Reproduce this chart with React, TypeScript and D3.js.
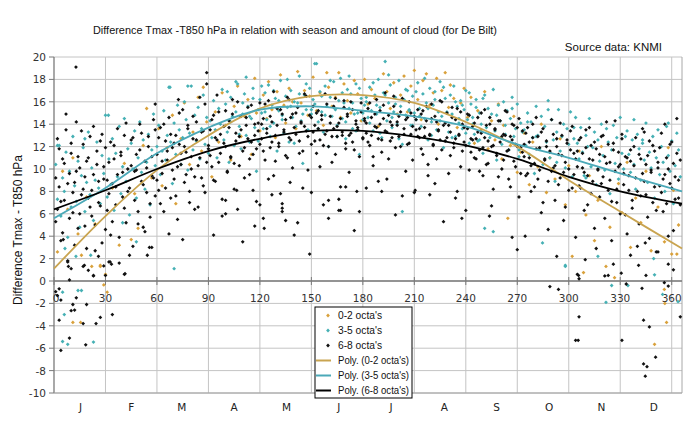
import React, { useEffect, useRef } from 'react';
import * as d3 from 'd3';

const width = 700;
const height = 430;
// plot area in px
const plot = { left: 54, right: 682, top: 57, bottom: 393 };

const title = 'Difference Tmax -T850 hPa in relation with season and amount of cloud (for De Bilt)';
const source = 'Source data: KNMI';
const yTitle = 'Difference Tmax - T850 hPa';

const months = ['J', 'F', 'M', 'A', 'M', 'J', 'J', 'A', 'S', 'O', 'N', 'D'];
const monthLengths = [31, 28, 31, 30, 31, 30, 31, 31, 30, 31, 30, 31];
const xTicks = [0, 30, 60, 90, 120, 150, 180, 210, 240, 270, 300, 330, 360];
const yTicks = [-10, -8, -6, -4, -2, 0, 2, 4, 6, 8, 10, 12, 14, 16, 18, 20];

// 6-8 octa's, one value per day (index 0 = day 1)
const blackA = [
  9.2, 6.4, 11.8, 7.1, 4.3, 10.5, 14.9, 8.7, 5.6, 12.3, 7.9, 3.2, 9.8, 11.1, 6.0, 13.4, 8.2, 4.9, 10.7, 7.4, 12.9, 5.8, 9.5, 2.7, 11.6, 8.9, 6.7, 13.1, 10.2, 4.6, 9.0,
  7.8, 12.4, 5.3, 10.9, 8.4, 13.6, 3.9, 11.2, 9.7, 6.5, 14.1, 8.0, 2.3, 10.3, 12.8, 7.2, 9.9, 5.1, 11.7, 13.2, 8.6, 4.4, 10.1, 12.0, 6.9, 9.4, 14.4, 7.6,
  11.3, 8.1, 13.7, 9.6, 6.2, 12.5, 10.8, 14.6, 7.4, 11.9, 9.1, 13.0, 5.5, 12.2, 10.4, 15.3, 8.8, 11.5, 13.9, 7.0, 10.0, 12.7, 9.3, 14.2, 6.6, 11.0, 13.3, 8.5, 15.8, 10.6, 12.1,
  13.5, 10.2, 14.8, 8.9, 12.6, 15.1, 11.4, 7.3, 13.8, 12.0, 9.7, 14.3, 11.1, 16.2, 10.5, 13.2, 6.4, 12.9, 14.7, 11.6, 9.2, 13.9, 15.5, 10.9, 12.4, 8.1, 14.0, 11.8, 13.4, 15.9,
  12.7, 14.5, 10.8, 13.6, 16.1, 11.9, 14.2, 9.4, 13.0, 15.4, 12.3, 7.8, 14.9, 13.3, 11.2, 16.4, 12.8, 14.6, 10.1, 13.7, 15.0, 5.2, 12.5, 14.1, 11.6, 16.7, 13.4, 9.9, 14.8, 12.2, 15.6,
  13.9, 11.4, 15.2, 12.6, 14.4, 6.8, 13.1, 15.8, 12.0, 14.7, 10.6, 13.6, 16.3, 12.9, 14.1, 8.4, 13.3, 15.5, 11.8, 14.9, 13.0, 16.0, 12.4, 4.5, 14.3, 13.7, 11.1, 15.1, 12.8, 14.5,
  13.2, 15.4, 12.1, 14.6, 10.3, 13.8, 16.2, 12.7, 14.0, 11.5, 15.7, 13.4, 9.1, 14.8, 12.5, 13.9, 16.5, 11.9, 14.2, 12.9, 15.1, 7.6, 13.6, 14.4, 12.2, 16.0, 13.1, 10.8, 14.7, 13.5, 15.3,
  12.8, 14.9, 11.3, 13.7, 15.6, 10.4, 13.0, 14.5, 12.1, 8.7, 14.2, 13.4, 16.1, 11.7, 13.9, 12.5, 15.0, 9.6, 13.3, 14.6, 11.9, 12.7, 15.4, 13.1, 10.2, 14.0, 12.4, 6.3, 13.6, 14.8, 11.5,
  12.6, 14.1, 10.9, 13.3, 11.7, 15.0, 9.4, 12.8, 13.9, 10.5, 14.6, 12.0, 8.2, 13.5, 11.2, 14.3, 12.4, 10.0, 13.1, 15.2, 11.6, 9.1, 12.9, 14.0, 10.7, 12.2, 13.7, 7.5, 11.9, 13.4,
  11.1, 13.2, 9.6, 12.4, 10.3, 14.0, 8.4, 11.8, 12.9, 9.9, 6.1, 13.6, 10.8, 12.0, 8.9, 11.5, 14.4, 10.1, 7.2, 12.7, 11.3, 9.2, 13.0, 5.4, 10.6, 12.3, 8.1, 11.7, 13.8, 9.5, 10.9,
  10.2, 12.6, 8.3, 11.4, 9.7, 13.5, 6.8, 10.9, 12.1, 8.9, 4.7, 11.8, 10.0, 7.5, 12.9, 9.3, 11.1, 14.2, 8.1, 10.6, 3.6, 12.3, 9.8, 7.0, 11.5, 10.4, 13.1, 8.6, 5.9, 11.0,
  9.4, 11.7, 7.2, 10.3, 12.8, 8.0, 5.1, 10.9, 9.6, 13.3, 7.7, 11.2, 3.8, 9.9, 12.1, 8.4, 6.3, 10.6, 11.9, 7.9, 9.1, 14.0, 6.9, 10.0, 8.7, 12.4, 4.5, 9.3, 11.4, 7.4, 10.8,
];

const blackB = [
  5.3, 12.7, 8.4, 3.6, 10.9, 7.2, 13.5, 1.8, 9.6, 11.4, 6.1, 8.8, 14.2, 4.7, 10.1, 7.7, 12.2, 9.3, 2.9, 11.0, 6.6, 8.1, 13.8, 5.0, 10.4, 7.0, 12.5, 3.4, 9.1, 11.9, 6.3,
  10.6, 4.1, 8.7, 12.1, 6.8, 9.5, 1.6, 11.5, 7.5, 13.0, 5.2, 10.0, 8.3, 12.6, 3.1, 9.8, 11.3, 6.2, 14.0, 8.9, 4.8, 10.7, 7.9, 12.9, 5.7, 11.1, 9.2, 13.5,
  9.0, 12.8, 6.9, 10.7, 14.0, 8.3, 11.6, 4.2, 13.1, 9.9, 12.3, 7.6, 10.2, 15.0, 11.4, 3.7, 12.0, 9.5, 13.6, 8.0, 11.1, 14.7, 6.4, 12.6, 10.3, 16.4, 9.2, 13.4, 7.9, 17.6, 11.8,
  11.2, 14.4, 9.0, 12.8, 16.6, 10.6, 13.1, 5.8, 12.3, 15.2, 9.8, 13.7, 11.0, 14.9, 8.2, 12.5, 16.0, 10.3, 13.5, 3.5, 11.9, 14.6, 12.7, 9.5, 15.7, 11.3, 13.0, 7.1, 14.1, 12.2,
  14.0, 11.6, 15.8, 13.2, 9.1, 14.7, 12.4, 16.9, 10.7, 13.9, 12.0, 15.3, 6.5, 13.5, 14.4, 11.0, 16.2, 12.6, 14.9, 4.1, 13.1, 15.5, 11.4, 14.2, 8.3, 13.8, 16.5, 12.9, 2.4, 14.6, 13.3,
  12.5, 15.0, 13.6, 10.2, 14.8, 12.1, 16.7, 13.4, 5.6, 14.1, 12.9, 15.6, 11.3, 13.8, 7.3, 14.5, 13.0, 16.1, 12.3, 14.7, 9.7, 13.2, 15.3, 11.7, 14.0, 13.5, 6.2, 15.9, 12.7, 14.3,
  14.1, 12.4, 15.9, 13.0, 11.1, 14.9, 13.7, 8.9, 15.2, 12.6, 14.5, 16.8, 13.3, 10.9, 14.2, 12.8, 15.6, 5.9, 13.9, 14.7, 12.0, 16.3, 13.1, 9.8, 14.6, 12.3, 15.0, 13.8, 7.9, 14.4, 12.9,
  13.6, 11.8, 15.2, 12.9, 14.3, 9.4, 13.1, 15.8, 12.2, 14.7, 10.9, 13.5, 12.6, 16.0, 5.3, 14.1, 12.8, 13.9, 11.2, 15.5, 12.3, 14.4, 8.0, 13.0, 15.1, 11.6, 13.7, 12.1, 14.9, 9.9, 12.7,
  13.8, 11.0, 12.7, 14.6, 9.8, 13.2, 11.9, 15.3, 10.4, 12.5, 14.0, 6.7, 12.1, 13.6, 11.4, 9.3, 14.3, 12.9, 10.8, 13.0, 15.1, 11.7, 8.4, 12.6, 13.9, 10.2, 12.0, 14.5, 9.6, 11.5,
  12.2, 9.4, 13.7, 11.0, 8.0, 12.8, 10.5, 14.6, 9.1, 11.9, 13.3, 7.0, 10.9, 12.5, 4.6, 11.6, 9.8, 13.1, 10.3, 12.0, 8.6, 14.1, 11.2, 9.7, 6.6, 12.6, 10.0, 13.4, 8.3, 11.4, 3.9,
  11.6, 8.5, 12.8, 10.1, 6.3, 11.9, 9.4, 13.7, 7.8, 10.8, 12.4, 2.9, 9.9, 11.3, 8.7, 13.0, 5.6, 10.5, 12.2, 9.0, 7.1, 11.7, 14.3, 8.2, 10.2, 6.0, 12.7, 9.6, 11.1, 4.2,
  8.1, 10.7, 6.5, 12.0, 9.2, 3.1, 11.3, 7.6, 13.6, 8.9, 10.4, 5.7, 12.5, 9.7, 7.0, 11.6, 2.6, 10.1, 8.5, 13.2, 6.2, 9.5, 11.0, 4.0, 12.2, 8.3, 10.5, 7.3, 14.5, 9.0, 6.8,
];

// 6-8 octa's, loose points: [day, value]
const blackExtra = [
  [1, -0.95], [2, -1.3], [3, -0.7], [3, -3.5], [4, -6.2], [4, -1.7], [8, 1.7], [9, 0.1], [9, -5.1], [10, 1.1], [10, -2.65],
  [11, -2.1], [12, -2.6], [13, -1.5], [12.8, 19.1], [17, -3.8], [17, 1.3], [18.5, -5.7], [19, -2.1], [20, 0.95], [23, 0.45],
  [24.5, -3.8], [27, -3.25], [29, 1.35], [30, 0.5], [32, 1.7], [33.5, 1.5], [34, -3.0], [41, 0.6], [5.4, 3.7], [8.4, 1.3],
  [17.7, 1.4], [23, 0.5], [25.9, 2.2], [32.7, 1.7], [41.4, 0.65], [54.4, 2.3], [55.6, 3.0], [57, 3.0], [59, 15.8], [72.5, 16.2],
  [89, 18.6], [93, 4.1], [100, 7.2], [100, 6.0], [106.5, 8.1], [117, 4.9], [120, 6.8], [122, 5.6], [122.5, 4.7], [127, 7.7],
  [133, 6.9], [133, 6.2], [135, 5.4], [137.6, 8.8], [150, 7.9], [160, 7.2], [166, 6.3], [167, 6.3], [170, 8.4], [176.5, 8.0],
  [182, 8.3], [191, 8.0], [210.5, 8.1], [219, 7.7], [234, 7.4], [237.7, 5.6], [253.8, 5.8], [267, 3.9], [270, 2.8], [274.6, 4.0],
  [289, -0.5], [293, 2.2], [294, -0.75], [305, 0.6], [306, 0.2], [306, -3.2], [304, -5.3], [305.5, -5.3], [305.7, 0.5],
  [309.6, 1.9], [321, 0.45], [323, 0.5], [326, 1.5], [330.6, 0.7], [331, -5.3], [333.5, -0.27], [336, 2.3], [340.7, 1.4],
  [342.7, -0.65], [343.6, -3.5], [343.6, -7.4], [344.6, -8.5], [344.6, 3.4], [345, 0.5], [345.6, -7.65], [347, -4.1],
  [350.6, -6.8], [352, 2.6], [355.7, -0.15], [358, -0.45], [358, 1.5], [361, 1.0], [365, -3.2],
];

// 3-5 octa's, one value per day (index 0 = day 1)
const tealA = [
  10.4, 7.3, 12.1, 5.8, 9.2, 8.0, 11.5, 3.9, 9.8, 6.6, 12.9, 8.5, 7.1, 10.7, 4.8, 9.4, 11.9, 6.2, 8.8, 13.3, 7.7, 10.1, 5.4, 9.0, 12.4, 8.3, 6.9, 11.2, 9.6, 14.8, 7.5,
  10.9, 8.6, 12.7, 6.3, 11.4, 9.3, 13.8, 7.8, 10.2, 14.5, 8.9, 11.8, 5.9, 12.3, 10.0, 13.4, 7.4, 11.0, 14.2, 9.7, 12.6, 8.2, 10.6, 13.1, 6.8, 11.7, 14.9, 10.3,
  12.0, 13.9, 9.5, 11.6, 15.2, 10.8, 13.0, 17.3, 12.4, 8.7, 14.1, 11.3, 15.7, 13.5, 10.4, 12.8, 16.0, 14.4, 9.9, 13.2, 17.4, 11.7, 14.8, 12.5, 15.5, 10.9, 13.6, 16.6, 12.2, 14.6, 11.4,
  14.3, 12.8, 16.1, 13.5, 11.0, 15.4, 14.0, 17.1, 12.6, 15.8, 13.3, 10.6, 16.4, 14.7, 12.1, 15.1, 17.6, 13.8, 11.8, 14.9, 16.7, 13.0, 15.6, 12.4, 14.5, 17.2, 13.7, 9.8, 15.3, 16.2,
  15.0, 13.6, 16.8, 14.4, 17.5, 12.9, 15.7, 14.1, 16.3, 11.6, 15.2, 17.9, 14.8, 13.2, 16.5, 15.5, 12.4, 17.0, 14.6, 16.0, 13.8, 15.9, 18.3, 14.3, 10.5, 16.6, 15.3, 13.5, 17.2, 14.9, 16.2,
  15.8, 19.4, 14.2, 16.9, 15.1, 13.3, 17.4, 15.6, 12.0, 16.4, 14.7, 17.8, 15.3, 13.9, 16.1, 18.1, 14.5, 15.9, 12.7, 17.1, 15.4, 16.7, 13.6, 14.9, 17.6, 15.0, 11.3, 16.3, 14.4, 15.7,
  16.0, 14.6, 17.3, 15.2, 13.4, 16.6, 14.9, 18.0, 15.5, 12.8, 16.8, 19.6, 14.3, 15.9, 17.5, 13.7, 15.1, 16.4, 14.0, 17.9, 15.6, 12.2, 16.2, 14.8, 17.0, 15.3, 13.9, 16.5, 15.0, 14.4, 17.7,
  15.4, 13.8, 16.7, 14.5, 15.9, 12.6, 17.2, 14.2, 15.7, 16.9, 13.5, 15.1, 17.8, 14.7, 11.9, 16.3, 15.0, 13.3, 16.6, 14.9, 17.4, 12.9, 15.6, 14.1, 16.1, 13.6, 15.3, 17.0, 14.4, 12.3, 15.8,
  14.6, 13.1, 16.2, 12.5, 15.0, 14.0, 11.4, 16.6, 13.7, 15.4, 12.8, 14.9, 17.1, 13.4, 10.8, 15.7, 14.3, 12.2, 16.0, 13.9, 15.2, 11.7, 14.5, 16.4, 12.9, 13.6, 15.8, 11.1, 14.1, 13.3,
  13.5, 12.1, 15.0, 11.3, 14.2, 12.8, 9.6, 15.6, 13.0, 11.8, 14.7, 10.4, 13.8, 12.4, 16.1, 11.0, 14.4, 12.6, 8.9, 13.3, 15.3, 11.6, 12.9, 14.0, 10.1, 13.6, 12.2, 15.1, 9.3, 12.7, 14.6,
  12.3, 10.9, 13.7, 11.5, 9.4, 13.0, 12.0, 14.5, 10.2, 11.9, 13.3, 8.6, 12.6, 10.7, 14.0, 11.2, 9.9, 13.6, 12.4, 7.8, 11.7, 13.9, 10.5, 12.8, 9.1, 14.6, 11.4, 10.0, 12.9, 13.4,
  11.3, 9.7, 12.6, 10.4, 8.2, 13.1, 11.8, 9.0, 12.3, 10.8, 14.1, 8.8, 11.5, 10.1, 12.9, 7.4, 11.0, 13.5, 9.5, 12.0, 10.6, 8.0, 13.8, 11.2, 9.8, 12.5, 6.9, 10.3, 13.2, 11.7, 9.3,
];

const tealExtra = [
  [2, 12.1], [5, -1.0], [6, -3.0], [5, -5.4], [8, -5.65], [14, -0.85], [16, -0.85], [23, -5.45], [6.4, 2.9], [12.8, 2.2],
  [21.4, 2.3], [18, 12.7], [31.7, 14.8], [40, 5.2], [48, 3.5], [70, 1.1], [67.6, 17.3], [78, 17.4],
  [101, 16.9], [103, 14.2], [106, 17.8], [108, 13.1], [110, 15.9], [112, 18.2], [114, 14.7], [116, 16.3], [119, 12.5],
  [121, 17.4], [123, 15.1], [126, 13.8], [128, 17.0], [131, 16.1], [133, 14.4], [136, 18.0], [138, 15.6], [140, 12.3],
  [143, 16.7], [145, 14.9], [147, 17.6], [150, 15.3], [152, 19.4], [154, 13.6], [156, 16.5], [158, 14.8], [161, 17.9],
  [163, 15.5], [165, 12.9], [168, 16.8], [170, 14.2], [172, 18.3], [174, 15.9], [176, 13.4], [178, 17.2], [180, 15.0],
  [182, 16.4], [184, 14.1], [186, 17.7], [188, 15.7], [190, 13.2], [193, 16.6], [195, 18.4], [197, 14.6], [199, 15.8],
  [201, 12.7], [203, 6.2], [205, 17.1], [207, 15.2], [209, 13.9], [211, 16.9], [213, 14.7], [216, 18.1], [218, 15.4],
  [220, 13.0], [222, 16.2], [225, 14.3], [227, 17.3], [229, 15.1], [232, 12.8], [234, 16.0], [236, 14.5], [238, 15.7],
  [240, 13.2], [242, 16.8], [244, 14.0], [246, 15.5], [248, 12.6], [250, 16.3], [251, 4.7], [256, 4.4], [258, 14.8],
  [263, 13.1], [267, 15.4], [271, 11.7], [276, 14.2], [281, 12.9], [284.7, 3.4], [288, 15.3], [293, 10.6], [298, 1.4],
  [298, 1.3], [303, 13.7], [310, 9.2], [317, 2.2], [321.7, -1.9], [325, -0.4], [334.5, -0.4], [338, 14.4], [343, 12.6],
  [349.5, 2.0], [350, 0.55], [354.7, -1.2], [358, 14.1], [363.7, -1.85],
];

// 0-2 octa's: [day, value]
const goldPts = [
  [2, 2.6], [5, 9.8], [8, 6.4], [11, -3.7], [11, 11.0], [14, 4.2], [15.5, -3.7], [16, 2.3], [19, 7.5], [22, 1.3], [24, 5.1],
  [27, 1.3], [27, 1.4], [29, -0.35], [30, 0.6], [31, -1.0], [34, 8.3], [38, 3.2], [41, 10.5], [45, 3.7], [47, 7.8], [49, 4.7],
  [52, 12.1], [54, 15.4], [57, 9.2],
  [61, 13.6], [63, 8.5], [66, 11.9], [69, 14.8], [71, 6.9], [74, 12.7], [76, 15.9], [79, 10.4], [81, 13.3], [84, 16.4],
  [86, 11.6], [87, 17.3], [89, 14.2], [92, 9.3], [94, 15.1], [96, 12.4], [98, 16.8], [100, 13.9], [103, 10.8], [105, 15.6],
  [107, 17.4], [109, 12.9], [111, 14.7], [113, 16.2], [115, 11.3], [117, 18.1], [118, 15.0], [120, 13.4],
  [122, 16.6], [124, 14.5], [125, 17.8], [127, 15.3], [129, 12.8], [130, 16.9], [132, 18.4], [134, 15.7], [135, 14.1],
  [137, 17.2], [139, 16.0], [141, 13.6], [142, 18.7], [144, 15.9], [146, 17.0], [148, 14.8], [149, 16.5], [151, 18.2],
  [153, 15.2], [155, 16.8], [157, 13.9], [159, 18.6], [160, 17.3], [162, 15.6], [164, 16.4], [166, 18.6], [167, 14.6],
  [169, 17.6], [171, 16.1], [173, 15.0], [175, 17.9], [177, 16.7], [179, 14.3], [181, 18.0], [183, 15.8], [185, 17.1],
  [187, 16.3], [189, 13.8], [192, 18.5], [194, 16.9], [196, 15.4], [198, 17.7], [200, 14.9], [202, 16.6], [204, 18.3],
  [206, 15.1], [208, 17.4], [210, 18.8], [212, 16.2], [214, 14.4], [215, 17.9], [217, 18.5], [219, 15.7], [221, 16.8],
  [223, 18.1], [224, 14.0], [226, 17.0], [228, 18.6], [230, 15.5], [231, 17.5], [233, 16.3], [235, 13.7], [237, 15.9],
  [239, 17.2], [241, 14.6],
  [243, 16.4], [245, 12.3], [247, 15.2], [249, 13.5], [251, 16.9], [253, 11.8], [255, 14.3], [257, 12.6], [259, 15.8],
  [261, 10.9], [262, 13.9], [264.5, 5.6], [266, 12.1], [268, 14.7], [270, 9.7], [272, 11.5], [274, 13.2], [277, 8.6],
  [279, 12.4], [282, 10.2], [284, 14.0], [287, 7.9], [289, 11.0], [292, 9.1], [295, 12.7], [298, 6.8],
  [300, 10.3], [302, 2.2], [304, 8.0], [306, 11.6], [308.6, 0.75], [310, 5.9], [312, 9.4], [315, 3.6], [317, 7.2],
  [319, 12.0], [321.7, 1.3], [324, 4.8], [326.7, 0.3], [329, 8.7], [331, 6.1], [334, 10.6], [336, 3.0], [339, 7.4],
  [342, 5.2], [345, 9.8], [348, 2.7], [350, -5.65], [352, 6.6], [355.7, -0.75], [355.8, 3.5], [356, -2.0], [357, -3.7],
  [358, 11.9], [360, 2.4], [361, 8.1], [363, 2.4], [364, 5.0],
];

// polynomial trend lines
const trendDays = [0, 30, 60, 90, 120, 150, 180, 210, 240, 270, 300, 330, 366];
const trendGold = [1.1, 5.8, 9.9, 13.0, 15.4, 16.5, 16.6, 15.9, 14.2, 12.0, 9.0, 6.2, 2.9];
const trendTeal = [5.6, 8.3, 11.4, 13.7, 15.3, 15.6, 15.2, 14.7, 13.8, 12.2, 11.0, 9.6, 8.0];
const trendBlack = [6.4, 8.1, 10.0, 11.6, 12.7, 13.4, 13.4, 12.9, 12.1, 10.9, 9.3, 8.0, 6.9];

const colors = { gold: '#d9a13b', teal: '#45b0b4', black: '#111111' };
const lineColors = { gold: '#c9a450', teal: '#4ba9b8', black: '#000000' };

const x = d3.scaleLinear().domain([0, 366]).range([plot.left, plot.right]);
const y = d3.scaleLinear().domain([-10, 20]).range([plot.bottom, plot.top]);

// small square diamond like the Excel marker
const marker = 'M0,-1.9L1.9,0L0,1.9L-1.9,0Z';

export default function App() {
  const ref = useRef(null);

  useEffect(() => {
    const svg = d3.select(ref.current);
    svg.selectAll('*').remove();

    svg.append('rect').attr('width', width).attr('height', height).attr('fill', '#fff');

    // grid
    const grid = svg.append('g');
    grid.selectAll('line.h')
      .data(yTicks)
      .enter().append('line')
      .attr('x1', plot.left).attr('x2', plot.right)
      .attr('y1', d => y(d)).attr('y2', d => y(d))
      .attr('stroke', '#c4c4c4').attr('stroke-width', 1);
    grid.selectAll('line.v')
      .data(xTicks.filter(d => d > 0))
      .enter().append('line')
      .attr('x1', d => x(d)).attr('x2', d => x(d))
      .attr('y1', plot.top).attr('y2', plot.bottom)
      .attr('stroke', '#c4c4c4').attr('stroke-width', 1);
    grid.append('line')
      .attr('x1', plot.right).attr('x2', plot.right)
      .attr('y1', plot.top).attr('y2', plot.bottom)
      .attr('stroke', '#a8a8a8');

    // y axis
    const yAxis = svg.append('g');
    yAxis.append('line')
      .attr('x1', plot.left).attr('x2', plot.left)
      .attr('y1', plot.top).attr('y2', plot.bottom)
      .attr('stroke', '#7a7a7a').attr('stroke-width', 1.3);
    yAxis.selectAll('line.t')
      .data(yTicks)
      .enter().append('line')
      .attr('x1', plot.left - 5).attr('x2', plot.left)
      .attr('y1', d => y(d)).attr('y2', d => y(d))
      .attr('stroke', '#7a7a7a');
    yAxis.selectAll('text')
      .data(yTicks)
      .enter().append('text')
      .attr('x', plot.left - 8)
      .attr('y', d => y(d) + 4)
      .attr('text-anchor', 'end')
      .attr('font-family', 'DejaVu Sans, sans-serif')
      .attr('font-size', 10.5)
      .attr('fill', '#333')
      .text(d => d);

    // zero axis with ticks and labels
    const xAxis = svg.append('g');
    xAxis.append('line')
      .attr('x1', plot.left).attr('x2', plot.right)
      .attr('y1', y(0)).attr('y2', y(0))
      .attr('stroke', '#7a7a7a').attr('stroke-width', 1.5);
    xAxis.selectAll('line.t')
      .data(xTicks)
      .enter().append('line')
      .attr('x1', d => x(d)).attr('x2', d => x(d))
      .attr('y1', y(0) - 4).attr('y2', y(0) + 4)
      .attr('stroke', '#7a7a7a');
    xAxis.selectAll('text')
      .data(xTicks)
      .enter().append('text')
      .attr('x', d => x(d) + (d === 0 ? 2 : 0))
      .attr('y', y(0) + 21)
      .attr('text-anchor', 'middle')
      .attr('font-family', 'DejaVu Sans, sans-serif')
      .attr('font-size', 10.5)
      .attr('fill', '#333')
      .text(d => d);

    // month labels at mid month
    const starts = monthLengths.map((_, i) => d3.sum(monthLengths.slice(0, i)));
    svg.append('g').selectAll('text')
      .data(months)
      .enter().append('text')
      .attr('x', (d, i) => x(starts[i] + monthLengths[i] / 2))
      .attr('y', plot.bottom + 18)
      .attr('text-anchor', 'middle')
      .attr('font-family', 'DejaVu Sans, sans-serif')
      .attr('font-size', 10.5)
      .attr('fill', '#222')
      .text(d => d);

    // scatter
    const drawPoints = (pts, color) => {
      svg.append('g').selectAll('path')
        .data(pts)
        .enter().append('path')
        .attr('d', marker)
        .attr('transform', d => `translate(${x(d[0])},${y(d[1])})`)
        .attr('fill', color);
    };
    const perDay = arr => arr.map((v, i) => [i + 1, v]);
    drawPoints(goldPts, colors.gold);
    drawPoints(perDay(tealA).concat(tealExtra), colors.teal);
    drawPoints(perDay(blackA).concat(perDay(blackB), blackExtra), colors.black);

    // trend lines
    const line = d3.line()
      .x((d, i) => x(trendDays[i]))
      .y(d => y(d))
      .curve(d3.curveCatmullRom);
    [[trendGold, lineColors.gold], [trendTeal, lineColors.teal], [trendBlack, lineColors.black]]
      .forEach(([vals, c]) => {
        svg.append('path')
          .attr('d', line(vals))
          .attr('fill', 'none')
          .attr('stroke', c)
          .attr('stroke-width', 1.8);
      });

    // bottom border
    svg.append('line')
      .attr('x1', plot.left).attr('x2', plot.right)
      .attr('y1', plot.bottom).attr('y2', plot.bottom)
      .attr('stroke', '#a0a0a0');

    // legend
    const lg = svg.append('g').attr('transform', 'translate(315,307)');
    lg.append('rect')
      .attr('width', 97).attr('height', 91)
      .attr('fill', '#fff').attr('stroke', '#000').attr('stroke-width', 1);
    const items = [
      { label: "0-2 octa's", color: colors.gold, kind: 'pt', len: 44 },
      { label: "3-5 octa's", color: colors.teal, kind: 'pt', len: 44 },
      { label: "6-8 octa's", color: colors.black, kind: 'pt', len: 44 },
      { label: "Poly. (0-2 octa's)", color: lineColors.gold, kind: 'ln', len: 71 },
      { label: "Poly. (3-5 octa's)", color: lineColors.teal, kind: 'ln', len: 71 },
      { label: "Poly. (6-8 octa's)", color: lineColors.black, kind: 'ln', len: 71 },
    ];
    items.forEach((it, i) => {
      const cy = 8.5 + i * 15;
      if (it.kind === 'pt') {
        lg.append('path').attr('d', marker).attr('transform', `translate(13,${cy})`).attr('fill', it.color);
      } else {
        lg.append('line').attr('x1', 1).attr('x2', 16).attr('y1', cy).attr('y2', cy)
          .attr('stroke', it.color).attr('stroke-width', 2);
      }
      lg.append('text')
        .attr('x', 23).attr('y', cy + 3.5)
        .attr('font-family', 'Liberation Sans, Arial, sans-serif')
        .attr('font-size', 10)
        .attr('fill', '#111')
        .attr('textLength', it.len)
        .attr('lengthAdjust', 'spacingAndGlyphs')
        .text(it.label);
    });

    // titles
    svg.append('text')
      .attr('x', 93).attr('y', 34)
      .attr('font-family', 'Liberation Sans, Arial, sans-serif')
      .attr('font-size', 11.5)
      .attr('fill', '#111')
      .attr('textLength', 404)
      .attr('lengthAdjust', 'spacingAndGlyphs')
      .text(title);
    svg.append('text')
      .attr('x', 662).attr('y', 51)
      .attr('text-anchor', 'end')
      .attr('font-family', 'Liberation Sans, Arial, sans-serif')
      .attr('font-size', 11.5)
      .attr('fill', '#111')
      .text(source);
    svg.append('text')
      .attr('transform', 'translate(22,230) rotate(-90)')
      .attr('text-anchor', 'middle')
      .attr('font-family', 'Liberation Sans, Arial, sans-serif')
      .attr('font-size', 12)
      .attr('fill', '#111')
      .text(yTitle);
  }, []);

  return (
    <svg ref={ref} width={width} height={height}
      style={{ position: 'absolute', left: 0, top: 0, display: 'block' }} />
  );
}
